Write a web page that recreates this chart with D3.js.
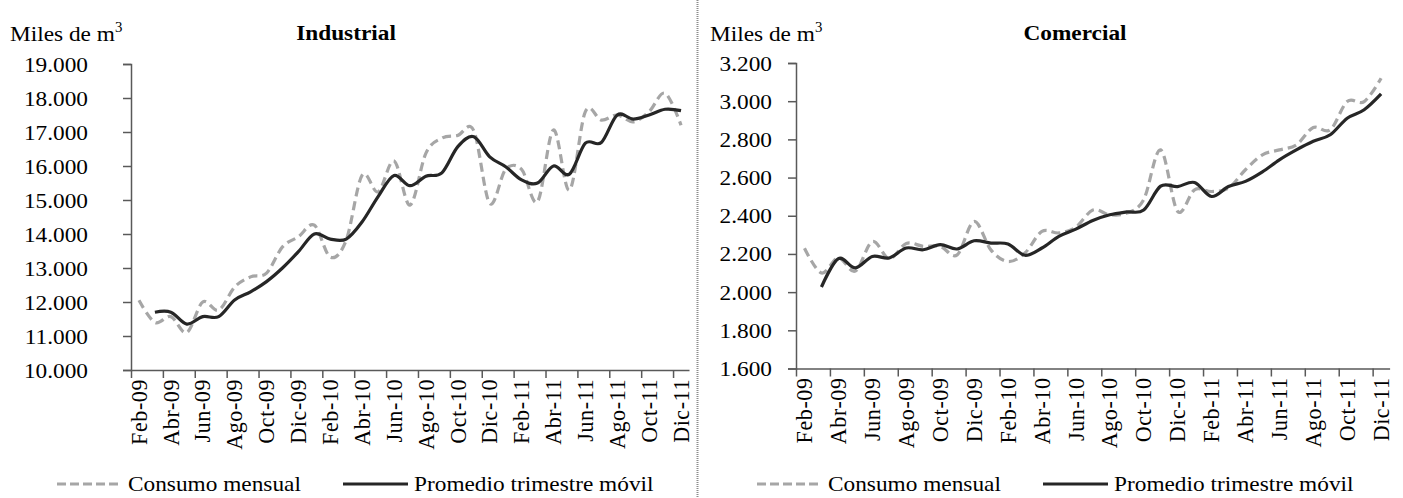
<!DOCTYPE html>
<html>
<head>
<meta charset="utf-8">
<script src="https://cdn.jsdelivr.net/npm/d3@7"></script>
<style>
body{margin:0;background:#fff;}
svg{display:block;font-family:"Liberation Serif","Times New Roman",serif;}
</style>
</head>
<body>
<script>

// months Feb-09 .. Dic-11
var months = ["Feb-09","Mar-09","Abr-09","May-09","Jun-09","Jul-09","Ago-09","Sep-09","Oct-09","Nov-09","Dic-09",
	"Ene-10","Feb-10","Mar-10","Abr-10","May-10","Jun-10","Jul-10","Ago-10","Sep-10","Oct-10","Nov-10","Dic-10",
	"Ene-11","Feb-11","Mar-11","Abr-11","May-11","Jun-11","Jul-11","Ago-11","Sep-11","Oct-11","Nov-11","Dic-11"];
var tickMonths = ["Feb-09","Abr-09","Jun-09","Ago-09","Oct-09","Dic-09","Feb-10","Abr-10","Jun-10","Ago-10",
	"Oct-10","Dic-10","Feb-11","Abr-11","Jun-11","Ago-11","Oct-11","Dic-11"];

var indMensual = [12050,11400,11570,11100,12000,11760,12440,12740,12850,13620,13920,
	14260,13320,13820,15730,15240,16150,14850,16380,16820,16900,17040,14900,
	15900,15900,14950,17060,15290,17600,17350,17500,17300,17600,18140,17200];
var indPromedio = [null,11700,11700,11350,11570,11570,12060,12300,12600,13000,13480,
	14000,13850,13850,14360,15100,15720,15420,15700,15800,16570,16860,16270,
	15980,15590,15500,16000,15760,16670,16690,17500,17380,17500,17670,17630];
var indTicks = [10000,11000,12000,13000,14000,15000,16000,17000,18000,19000];

var comMensual = [2230,2100,2180,2110,2265,2175,2255,2240,2240,2195,2370,
	2220,2160,2205,2318,2310,2340,2430,2405,2414,2484,2745,2423,
	2536,2527,2545,2641,2719,2745,2771,2862,2850,2998,2998,3120];
var comPromedio = [null,2027,2175,2127,2187,2179,2231,2222,2249,2226,2269,
	2257,2252,2193,2231,2292,2330,2375,2405,2420,2430,2555,2553,
	2574,2501,2553,2580,2630,2693,2745,2790,2824,2911,2955,3038];
var comTicks = [1600,1800,2000,2200,2400,2600,2800,3000,3200];

var W = 1403, H = 498;
var sx = 1.06; // the original text is a bit stretched horizontally
var fs = 22;
var fmt = d3.formatLocale({decimal:",", thousands:".", grouping:[3], currency:["",""]}).format(",");

var svg = d3.select("body").append("svg")
	.attr("width", W)
	.attr("height", H);

// dotted separator between the two charts
svg.append("line")
	.attr("x1", 697.5).attr("x2", 697.5)
	.attr("y1", 0).attr("y2", H)
	.attr("stroke", "#8c8c8c")
	.attr("stroke-width", 2)
	.attr("stroke-dasharray", "1,1");

var panels = [
	{title:"Industrial", titleX:346, unitX:10, x0:131, x1:689, yTop:64, yBot:370,
	 domain:[10000,19000], ticks:indTicks, labelRight:88, legendX:57, legendX2:343,
	 mensual:indMensual, promedio:indPromedio},
	{title:"Comercial", titleX:1075, unitX:710, x0:796, x1:1389.6, yTop:63, yBot:368.5,
	 domain:[1600,3200], ticks:comTicks, labelRight:772, legendX:757, legendX2:1043,
	 mensual:comMensual, promedio:comPromedio}
];

var hText = function(x, y, str, size, weight, anchor){
	return svg.append("text")
		.attr("transform", "translate(" + x + "," + y + ") scale(" + sx + ",1)")
		.attr("font-size", size)
		.attr("font-weight", weight || "normal")
		.attr("text-anchor", anchor || "start")
		.attr("fill", "#000")
		.text(str);
};

var drawPanel = function(p){

	var x = d3.scaleBand().domain(months).range([p.x0, p.x1]);
	var xEdge = d3.scaleLinear().domain([0, months.length]).range([p.x0, p.x1]);
	var y = d3.scaleLinear().domain(p.domain).range([p.yBot, p.yTop]);

	// titles
	var unit = hText(p.unitX, 41, "Miles de m", fs);
	unit.append("tspan").attr("font-size", 14).attr("dy", -9).text("3");
	hText(p.titleX, 40, p.title, fs, "bold", "middle");

	// y axis
	var gy = svg.append("g")
		.attr("transform", "translate(" + p.x0 + ",0)")
		.call(d3.axisLeft(y).tickValues(p.ticks).tickFormat(fmt).tickSize(8));
	gy.select(".domain").attr("stroke", "#595959").attr("stroke-width", 1.5);
	gy.selectAll(".tick line").attr("stroke", "#595959").attr("stroke-width", 1.5);
	gy.selectAll(".tick text")
		.attr("font-family", "Liberation Serif")
		.attr("font-size", fs)
		.attr("fill", "#000")
		.attr("x", -(p.x0 - p.labelRight) / sx)
		.attr("transform", "scale(" + sx + ",1)");

	// x axis: tick marks every two months, on category edges
	var gxt = svg.append("g")
		.attr("transform", "translate(0," + p.yBot + ")")
		.call(d3.axisBottom(xEdge).tickValues(d3.range(0, months.length, 2)).tickFormat("").tickSize(8).tickSizeOuter(0));
	gxt.select(".domain").attr("stroke", "#595959").attr("stroke-width", 1.5);
	gxt.selectAll(".tick line").attr("stroke", "#595959").attr("stroke-width", 1.5);

	// x labels, centred on their month
	var gx = svg.append("g")
		.attr("transform", "translate(0," + p.yBot + ")")
		.call(d3.axisBottom(x).tickValues(tickMonths).tickSize(0));
	gx.select(".domain").remove();
	gx.selectAll(".tick text")
		.attr("font-family", "Liberation Serif")
		.attr("font-size", fs)
		.attr("fill", "#000")
		.attr("letter-spacing", 0.6)
		.attr("text-anchor", "end")
		.attr("x", -9)
		.attr("y", 0)
		.attr("dy", "0.33em")
		.attr("transform", "scale(" + sx + ",1) rotate(-90)");

	var line = d3.line()
		.defined(function(d){ return d != null; })
		.x(function(d, i){ return x(months[i]) + x.bandwidth() / 2; })
		.y(function(d){ return y(d); })
		.curve(d3.curveCardinal.tension(0));

	svg.append("path")
		.datum(p.mensual)
		.attr("d", line)
		.attr("fill", "none")
		.attr("stroke", "#a6a6a6")
		.attr("stroke-width", 3.2)
		.attr("stroke-dasharray", "9,5");

	svg.append("path")
		.datum(p.promedio)
		.attr("d", line)
		.attr("fill", "none")
		.attr("stroke", "#262626")
		.attr("stroke-width", 3.2);

	// legend
	var ly = 484;
	svg.append("line")
		.attr("x1", p.legendX).attr("x2", p.legendX + 65)
		.attr("y1", ly).attr("y2", ly)
		.attr("stroke", "#a6a6a6").attr("stroke-width", 3.2)
		.attr("stroke-dasharray", "9,4");
	hText(p.legendX + 71, ly + 7, "Consumo mensual", fs);
	svg.append("line")
		.attr("x1", p.legendX2).attr("x2", p.legendX2 + 65)
		.attr("y1", ly).attr("y2", ly)
		.attr("stroke", "#262626").attr("stroke-width", 3.2);
	hText(p.legendX2 + 71, ly + 7, "Promedio trimestre móvil", fs);
};

panels.forEach(drawPanel);
</script>
</body>
</html>
